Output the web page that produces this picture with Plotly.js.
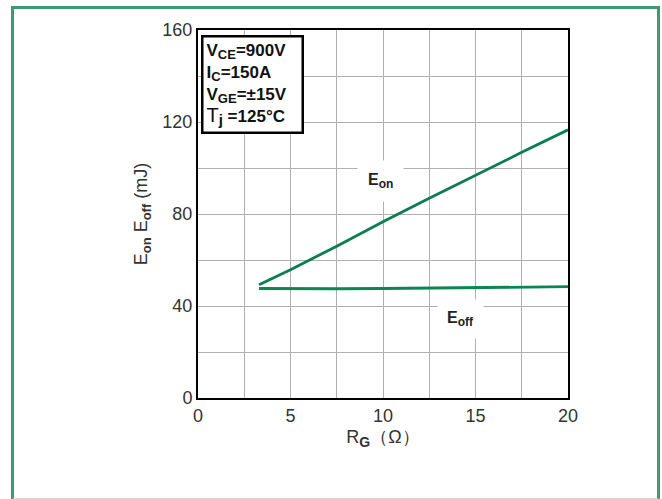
<!DOCTYPE html>
<html><head><meta charset="utf-8">
<script src="https://cdn.plot.ly/plotly-3.0.1.min.js"></script>
<style>
html,body{margin:0;padding:0;background:#fff;}
#frame{position:absolute;left:11px;top:6px;width:643px;height:489px;border-left:3px solid #3f9a74;border-top:3px solid #3f9a74;border-right:3px solid #3f9a74;border-bottom:2px solid #bfe3d4;}
#chart{position:absolute;left:0;top:0;width:662px;height:499px;}
</style></head>
<body>
<div id="frame"></div>
<div id="chart"></div>
<script>
const rg = [3.3, 5, 7.5, 10, 12.5, 15, 17.5, 20];
const eon = [49.2, 55.8, 66.0, 76.6, 86.8, 96.9, 106.8, 116.6];
const eoff = [47.6, 47.5, 47.5, 47.6, 47.8, 48.0, 48.2, 48.4];
const xTicks = [0, 5, 10, 15, 20];
const yTicks = [0, 40, 80, 120, 160];

const font = "Liberation Sans, Arial, sans-serif";
const data = [
  {x: rg, y: eon, mode: 'lines', line: {color: '#0b7d50', width: 2.8}, showlegend: false, hoverinfo: 'skip'},
  {x: rg, y: eoff, mode: 'lines', line: {color: '#0a8652', width: 2.8}, showlegend: false, hoverinfo: 'skip'}
];
const sub = (s, px) => '<sub><span style="font-size:' + px + 'px">' + s + '</span></sub>';
const layout = {
  width: 662, height: 499,
  margin: {l: 198, r: 94, t: 30, b: 101},
  paper_bgcolor: 'rgba(0,0,0,0)', plot_bgcolor: '#fff',
  font: {family: font, color: '#333', size: 18},
  xaxis: {range: [0, 20], tickvals: xTicks, ticktext: xTicks.map(String), showgrid: true, gridcolor: '#b0b0b0', gridwidth: 1,
    minor: {dtick: 2.5, tick0: 0, showgrid: true, gridcolor: '#b0b0b0', gridwidth: 1},
    showline: true, linecolor: '#000', linewidth: 2, mirror: true, zeroline: false, ticks: '',
    tickfont: {size: 18, color: '#333'},
    title: {text: 'R' + sub('<b>G</b>', 14) + '（Ω）', font: {size: 18, color: '#333'}, standoff: 6}},
  yaxis: {range: [0, 160], tickvals: yTicks, ticktext: yTicks.map(String), showgrid: true, gridcolor: '#b0b0b0', gridwidth: 1,
    minor: {dtick: 20, tick0: 0, showgrid: true, gridcolor: '#b0b0b0', gridwidth: 1},
    showline: true, linecolor: '#000', linewidth: 2, mirror: true, zeroline: false, ticks: '',
    tickfont: {size: 18, color: '#333'},
    title: {text: 'E' + sub('<b>on</b>', 13) + ' E' + sub('<b>off</b>', 13) + ' (mJ)', font: {size: 18, color: '#333'}, standoff: 10}},
  annotations: [
    {xref: 'paper', yref: 'paper', x: 0.009, y: 0.987, xanchor: 'left', yanchor: 'top', align: 'left', valign: 'middle',
     width: 92, height: 88,
     text: '<b>V' + sub('CE', 13) + '=900V</b><br><b>I' + sub('C', 13) + '=150A</b><br><b>V' + sub('GE', 13) + '=±15V</b><br><span style="font-size:20px">T</span><b>' + sub('j', 15) + ' =125°C</b>',
     showarrow: false, bordercolor: '#000', borderwidth: 2.5, borderpad: 3, bgcolor: '#fff',
     font: {family: font, size: 17, color: '#111'}},
    {x: 9.85, y: 94.5, text: '<b>E' + sub('on', 12) + '</b>', showarrow: false, bgcolor: '#fff', borderpad: 10,
     font: {family: font, size: 16, color: '#222'}},
    {x: 14.2, y: 34.5, text: '<b>E' + sub('off', 12) + '</b>', showarrow: false, bgcolor: '#fff', borderpad: 9,
     font: {family: font, size: 16, color: '#222'}}
  ]
};
Plotly.newPlot('chart', data, layout, {staticPlot: true, displayModeBar: false});
</script>
</body></html>
